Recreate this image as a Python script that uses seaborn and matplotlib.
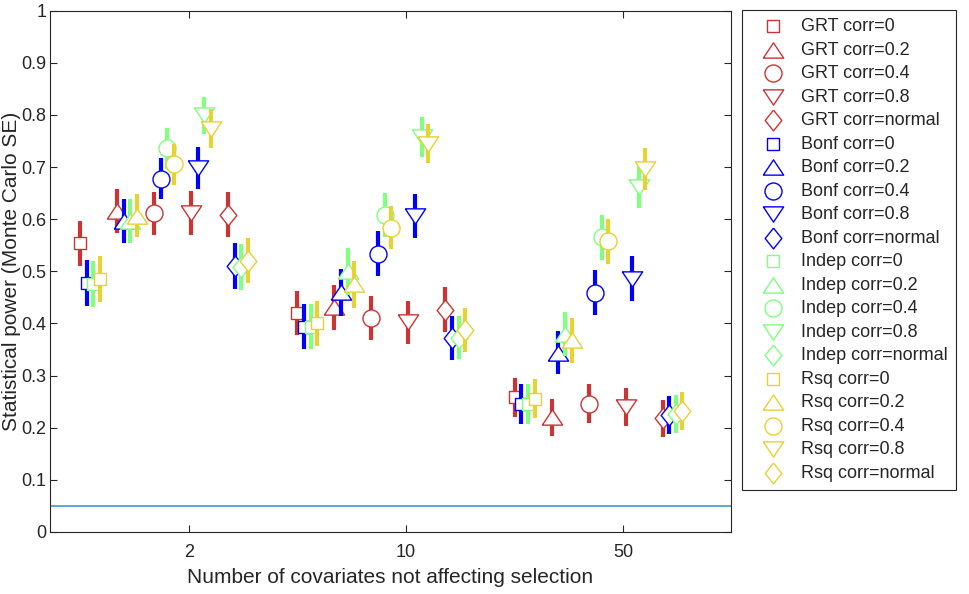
import numpy as np
import pandas as pd
import seaborn as sns
import matplotlib.pyplot as plt
from matplotlib.ticker import FixedLocator, FixedFormatter, NullLocator

# 数据：每行对应一个协变量个数，每列对应一个相关性设置
n_covariates = [2, 10, 50]
corr_labels = ["0", "0.2", "0.4", "0.8", "normal"]
methods = ["GRT", "Bonf", "Indep", "Rsq"]

grt_power = [[0.554, 0.615, 0.611, 0.612, 0.609],
             [0.420, 0.431, 0.410, 0.402, 0.426],
             [0.258, 0.220, 0.246, 0.240, 0.218]]
grt_se = [[0.043, 0.042, 0.042, 0.042, 0.043],
          [0.042, 0.043, 0.042, 0.042, 0.043],
          [0.038, 0.036, 0.037, 0.037, 0.036]]

bonf_power = [[0.477, 0.597, 0.678, 0.698, 0.510],
              [0.394, 0.460, 0.534, 0.606, 0.372],
              [0.246, 0.344, 0.459, 0.486, 0.224]]
bonf_se = [[0.044, 0.042, 0.040, 0.040, 0.044],
           [0.043, 0.045, 0.043, 0.042, 0.042],
           [0.038, 0.041, 0.043, 0.043, 0.036]]

indep_power = [[0.476, 0.597, 0.736, 0.799, 0.509],
               [0.394, 0.500, 0.608, 0.758, 0.373],
               [0.246, 0.380, 0.565, 0.662, 0.226]]
indep_se = [[0.044, 0.042, 0.039, 0.035, 0.044],
            [0.043, 0.045, 0.042, 0.038, 0.042],
            [0.038, 0.042, 0.043, 0.040, 0.037]]

rsq_power = [[0.486, 0.607, 0.705, 0.774, 0.520],
             [0.400, 0.475, 0.584, 0.745, 0.388],
             [0.256, 0.368, 0.558, 0.696, 0.232]]
rsq_se = [[0.044, 0.042, 0.040, 0.037, 0.043],
          [0.043, 0.045, 0.042, 0.038, 0.042],
          [0.038, 0.043, 0.043, 0.040, 0.037]]

alpha_level = 0.05

power_by_method = [grt_power, bonf_power, indep_power, rsq_power]
se_by_method = [grt_se, bonf_se, indep_se, rsq_se]

# 样式
colors = ["#cc3333", "#0000ff", "#80ff80", "#e6d232"]
tri_up = [(-1, -0.75), (1, -0.75), (0, 0.75), (-1, -0.75)]
tri_down = [(-1, 0.75), (1, 0.75), (0, -0.75), (-1, 0.75)]
diamond = [(0, 1), (0.8, 0), (0, -1), (-0.8, 0), (0, 1)]
markers = ["s", tri_up, "o", tri_down, diamond]
marker_sizes = [85, 215, 150, 215, 225]

# 组内偏移（对数坐标下的十进制单位）
corr_step = 0.1189
method_step = 0.0212
shift = 0.0077

sns.set_style("ticks")
plt.rcParams["font.family"] = ["Liberation Sans", "DejaVu Sans"]

fig = plt.figure(figsize=(9.69, 5.94), dpi=100)
ax = fig.add_axes([0.0516, 0.1044, 0.7025, 0.8776])

rows = []
k = 0
for mi, method in enumerate(methods):
    for cj, corr in enumerate(corr_labels):
        offs = (cj - 3) * corr_step + mi * method_step + shift
        xs = [n * 10 ** offs for n in n_covariates]
        ys = [power_by_method[mi][g][cj] for g in range(3)]
        es = [se_by_method[mi][g][cj] for g in range(3)]
        for x, y, e in zip(xs, ys, es):
            rows.append([method, corr, x, y, e])
        ax.vlines(xs, np.array(ys) - np.array(es), np.array(ys) + np.array(es),
                  color=colors[mi], lw=3, zorder=2 + 2 * k)
        sns.scatterplot(x=xs, y=ys, marker=markers[cj], s=marker_sizes[cj],
                        color="white", edgecolor=colors[mi], linewidth=1,
                        label=f"{method} corr={corr}", ax=ax, zorder=3 + 2 * k,
                        legend=False)
        k += 1

df = pd.DataFrame(rows, columns=["method", "corr", "x", "power", "se"])

ax.axhline(alpha_level, color="#4fa3d8", lw=1.3, zorder=1)

ax.set_xscale("log")
ax.set_xlim(0.716, 110.8)
ax.set_ylim(0, 1)
ax.xaxis.set_major_locator(FixedLocator(n_covariates))
ax.xaxis.set_major_formatter(FixedFormatter([str(n) for n in n_covariates]))
ax.xaxis.set_minor_locator(NullLocator())
yt = np.round(np.arange(0, 1.01, 0.1), 1)
ax.set_yticks(yt)
ax.set_yticklabels([f"{v:g}" for v in yt])
ax.tick_params(direction="in", top=True, right=True, length=5, width=0.8,
               labelsize=13, colors="#262626")
ax.tick_params(axis="x", pad=9)
ax.tick_params(axis="y", pad=2.5)
for sp in ax.spines.values():
    sp.set_visible(True)
    sp.set_color("#262626")
    sp.set_linewidth(0.8)

ax.set_xlabel("Number of covariates not affecting selection", fontsize=15,
              color="#262626", labelpad=5)
ax.set_ylabel("Statistical power (Monte Carlo SE)", fontsize=15,
              color="#262626", labelpad=0.5)

handles, labels = ax.get_legend_handles_labels()
leg = fig.legend(handles, labels, loc="upper left",
                 bbox_to_anchor=(742 / 969, 1 - 10 / 594), fontsize=13,
                 frameon=True, fancybox=False, edgecolor="#262626",
                 framealpha=1, labelspacing=0.36, handletextpad=0.28,
                 borderpad=0.45, borderaxespad=0, handlelength=2.55)
leg.get_frame().set_linewidth(0.8)

fig.savefig("out.png", dpi=100)
